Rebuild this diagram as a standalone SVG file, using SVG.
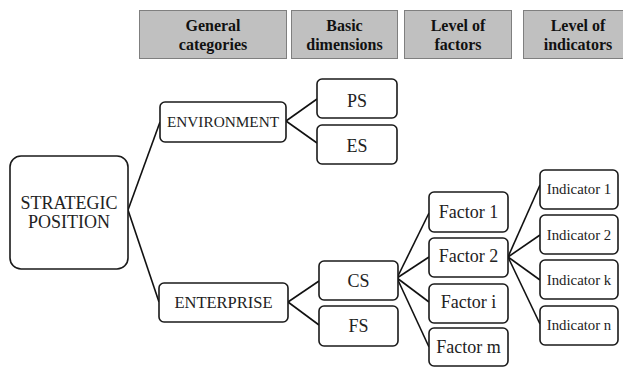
<svg xmlns="http://www.w3.org/2000/svg" width="623" height="367" viewBox="0 0 623 367">
<style>
.hdr{fill:#c0c0c0;stroke:#7f7f7f;stroke-width:1}
.ht{font-family:'Liberation Serif','DejaVu Serif',Times,serif;font-weight:bold;font-size:16px;fill:#111;text-anchor:middle}
.box{fill:#fff;stroke:#1a1a1a;stroke-width:1.6}
.t{font-family:'Liberation Serif','DejaVu Serif',Times,serif;fill:#222;text-anchor:middle}
.conn line{stroke:#111;stroke-width:1.6}
</style>
<rect width="623" height="367" fill="#fff"/>
<g id="headers">
<rect class="hdr" x="139.5" y="10.5" width="147" height="48"/>
<text class="ht" x="213" y="31">General</text><text class="ht" x="213" y="50">categories</text>
<rect class="hdr" x="291.5" y="10.5" width="106" height="48"/>
<text class="ht" x="344.5" y="31">Basic</text><text class="ht" x="344.5" y="50">dimensions</text>
<rect class="hdr" x="404.5" y="10.5" width="107" height="48"/>
<text class="ht" x="458" y="31">Level of</text><text class="ht" x="458" y="50">factors</text>
<rect class="hdr" x="523.5" y="10.5" width="101" height="48"/>
<text class="ht" x="578" y="31">Level of</text><text class="ht" x="578" y="50">indicators</text>
</g>
<g class="conn" id="connectors">
<line x1="128" y1="210" x2="160" y2="122"/>
<line x1="128" y1="210" x2="159" y2="302"/>
<line x1="286" y1="121" x2="317" y2="99"/>
<line x1="286" y1="121" x2="317" y2="143"/>
<line x1="288" y1="302" x2="319" y2="281"/>
<line x1="288" y1="302" x2="319" y2="325"/>
<line x1="397" y1="278" x2="429" y2="213"/>
<line x1="397" y1="278" x2="429" y2="257"/>
<line x1="397" y1="278" x2="429" y2="302"/>
<line x1="397" y1="278" x2="429" y2="347"/>
<line x1="508" y1="257" x2="540" y2="185"/>
<line x1="508" y1="257" x2="540" y2="235"/>
<line x1="508" y1="257" x2="540" y2="280"/>
<line x1="508" y1="257" x2="540" y2="324"/>
</g>
<g id="strategic"><rect class="box" x="10" y="156" width="118" height="113" rx="11"/>
<text class="t" x="69" y="209" font-size="18">STRATEGIC</text><text class="t" x="69" y="228" font-size="18">POSITION</text></g>
<g id="environment"><rect class="box" x="160" y="102" width="126" height="40" rx="5"/>
<text class="t" x="223" y="127" font-size="15.3">ENVIRONMENT</text></g>
<g id="enterprise"><rect class="box" x="159" y="283" width="129" height="39" rx="5"/>
<text class="t" x="223.5" y="308" font-size="16.5">ENTERPRISE</text></g>
<g id="ps"><rect class="box" x="317" y="79" width="80" height="39" rx="5"/>
<text class="t" x="357" y="107" font-size="18">PS</text></g>
<g id="es"><rect class="box" x="317" y="125" width="80" height="39" rx="5"/>
<text class="t" x="357" y="152" font-size="18">ES</text></g>
<g id="cs"><rect class="box" x="319" y="261" width="79" height="39" rx="5"/>
<text class="t" x="358.5" y="287" font-size="18">CS</text></g>
<g id="fs"><rect class="box" x="319" y="306" width="79" height="40" rx="5"/>
<text class="t" x="358.5" y="332" font-size="18">FS</text></g>
<g id="factor1"><rect class="box" x="429" y="192" width="79" height="40" rx="5"/>
<text class="t" x="468.5" y="218" font-size="18">Factor 1</text></g>
<g id="factor2"><rect class="box" x="429" y="238" width="79" height="39" rx="5"/>
<text class="t" x="468.5" y="262" font-size="18">Factor 2</text></g>
<g id="factori"><rect class="box" x="429" y="284" width="79" height="39" rx="5"/>
<text class="t" x="468.5" y="308" font-size="18">Factor i</text></g>
<g id="factorm"><rect class="box" x="429" y="328" width="79" height="38" rx="5"/>
<text class="t" x="468.5" y="353" font-size="18">Factor m</text></g>
<g id="ind1"><rect class="box" x="540" y="170" width="78" height="39" rx="5"/>
<text class="t" x="579" y="194" font-size="14.8">Indicator 1</text></g>
<g id="ind2"><rect class="box" x="540" y="215" width="78" height="39" rx="5"/>
<text class="t" x="579" y="240" font-size="14.8">Indicator 2</text></g>
<g id="indk"><rect class="box" x="540" y="260" width="78" height="39" rx="5"/>
<text class="t" x="579" y="285" font-size="14.8">Indicator k</text></g>
<g id="indn"><rect class="box" x="540" y="306" width="78" height="39" rx="5"/>
<text class="t" x="579" y="330" font-size="14.8">Indicator n</text></g>
</svg>
